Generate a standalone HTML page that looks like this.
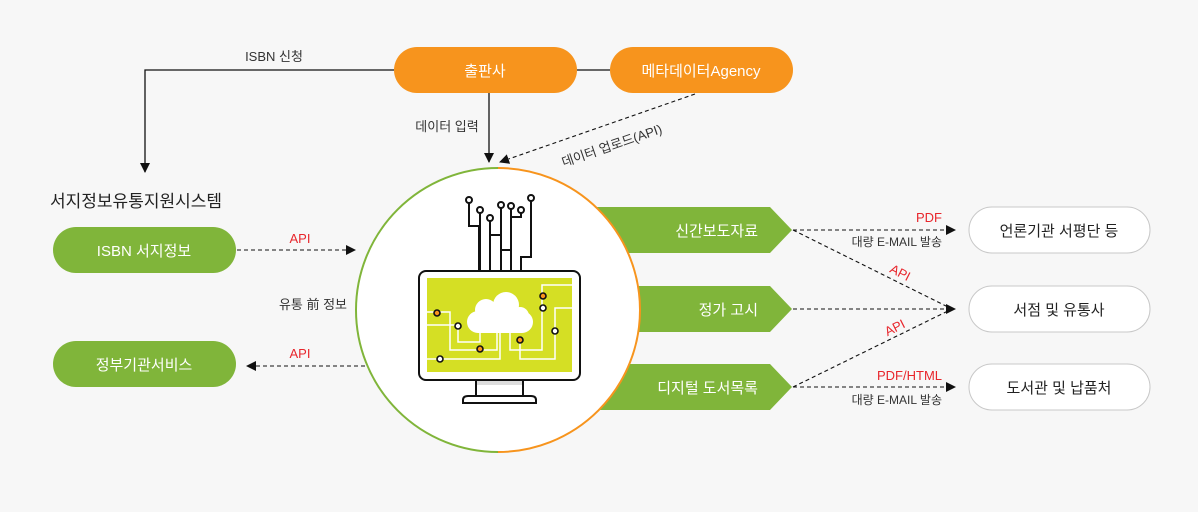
<!DOCTYPE html>
<html><head><meta charset="utf-8"><style>
html,body{margin:0;padding:0;background:#f7f7f7}
svg{display:block;font-family:"Liberation Sans","Noto Sans CJK KR",sans-serif}
</style></head><body>
<svg width="1198" height="512" viewBox="0 0 1198 512" xmlns="http://www.w3.org/2000/svg">
<defs>
<marker id="a" markerWidth="10" markerHeight="10" refX="9" refY="5" orient="auto" markerUnits="userSpaceOnUse"><path d="M0,0 L10,5 L0,10 z" fill="#111"/></marker>
</defs>
<rect width="1198" height="512" fill="#f7f7f7"/>
<path d="M394,70 H145 V172" fill="none" stroke="#111" stroke-width="1.3" marker-end="url(#a)"/>
<text x="274" y="61" font-size="13" fill="#333" text-anchor="middle">ISBN 신청</text>
<line x1="577" y1="70" x2="610" y2="70" stroke="#111" stroke-width="1.3"/>
<line x1="489" y1="93" x2="489" y2="162" stroke="#111" stroke-width="1.3" marker-end="url(#a)"/>
<text x="447" y="131" font-size="13" fill="#333" text-anchor="middle">데이터 입력</text>
<line x1="695" y1="94" x2="500" y2="162" stroke="#111" stroke-width="1.1" stroke-dasharray="4,3" marker-end="url(#a)"/>
<text x="612" y="150" font-size="13" fill="#333" text-anchor="middle" transform="rotate(-19 612 146)">데이터 업로드(API)</text>
<rect x="394" y="47" width="183" height="46" rx="23" fill="#f7941d"/>
<text x="485" y="76" font-size="15" fill="#fff" text-anchor="middle">출판사</text>
<rect x="610" y="47" width="183" height="46" rx="23" fill="#f7941d"/>
<text x="701" y="76" font-size="15" fill="#fff" text-anchor="middle">메타데이터Agency</text>
<text x="50" y="207" font-size="17" fill="#222">서지정보유통지원시스템</text>
<rect x="53" y="227" width="183" height="46" rx="23" fill="#80b53a"/>
<text x="144" y="256" font-size="15" fill="#fff" text-anchor="middle">ISBN 서지정보</text>
<rect x="53" y="341" width="183" height="46" rx="23" fill="#80b53a"/>
<text x="144" y="370" font-size="15" fill="#fff" text-anchor="middle">정부기관서비스</text>
<line x1="237" y1="250" x2="355" y2="250" stroke="#111" stroke-width="1.1" stroke-dasharray="4,3" marker-end="url(#a)"/>
<text x="300" y="243" font-size="13" fill="#e8262c" text-anchor="middle">API</text>
<line x1="365" y1="366" x2="247" y2="366" stroke="#111" stroke-width="1.1" stroke-dasharray="4,3" marker-end="url(#a)"/>
<text x="300" y="358" font-size="13" fill="#e8262c" text-anchor="middle">API</text>
<text x="313" y="309" font-size="13" fill="#333" text-anchor="middle">유통 前 정보</text>
<g fill="#80b53a">
<path d="M560,207 H770 L792,230 L770,253 H560 z"/>
<path d="M560,286 H770 L792,309 L770,332 H560 z"/>
<path d="M560,364 H770 L792,387 L770,410 H560 z"/>
</g>
<text x="758" y="236" font-size="15" fill="#fff" text-anchor="end">신간보도자료</text>
<text x="758" y="315" font-size="15" fill="#fff" text-anchor="end">정가 고시</text>
<text x="758" y="393" font-size="15" fill="#fff" text-anchor="end">디지털 도서목록</text>
<path d="M498,168 A142,142 0 0 0 498,452" fill="#fff" stroke="#80b53a" stroke-width="2"/>
<path d="M498,168 A142,142 0 0 1 498,452" fill="#fff" stroke="#f7941d" stroke-width="2"/>
<g stroke="#111" stroke-width="2" fill="none">
<path d="M469,200 V226 H479 V270"/><path d="M480,210 V270"/><path d="M490,218 V270"/>
<path d="M501,205 V270"/><path d="M511,206 V270"/><path d="M521,210 V217 H511"/>
<path d="M531,198 V257 H521 V270"/><path d="M490,235 H501"/><path d="M501,250 H511"/>
</g>
<g fill="#fff" stroke="#111" stroke-width="2">
<circle cx="469" cy="200" r="3"/><circle cx="480" cy="210" r="3"/><circle cx="490" cy="218" r="3"/>
<circle cx="501" cy="205" r="3"/><circle cx="511" cy="206" r="3"/><circle cx="521" cy="210" r="3"/><circle cx="531" cy="198" r="3"/>
</g>
<rect x="419" y="271" width="161" height="109" rx="7" fill="#fff" stroke="#111" stroke-width="2"/>
<rect x="427" y="278" width="145" height="94" fill="#d5df24"/>
<g stroke="#fff" stroke-width="1.5" fill="none">
<path d="M427,312 H450 V350 H497 V330"/><path d="M427,325 H458 V342 H480 V330"/>
<path d="M427,359 H500 V330"/><path d="M510,330 V350 H542 V285 H572"/>
<path d="M520,340 V359 H555 V308 H572"/>
</g>
<g fill="#fff">
<rect x="467" y="311" width="66" height="22" rx="11"/>
<circle cx="486" cy="310" r="11"/>
<circle cx="506" cy="305" r="13"/>
<circle cx="520" cy="316" r="9"/>
</g>
<g stroke="#111" stroke-width="1.6">
<circle cx="437" cy="313" r="3" fill="#f7941d"/><circle cx="458" cy="326" r="3" fill="#fff"/>
<circle cx="480" cy="349" r="3" fill="#f7941d"/><circle cx="440" cy="359" r="3" fill="#fff"/>
<circle cx="520" cy="340" r="3" fill="#f7941d"/><circle cx="543" cy="296" r="3" fill="#f7941d"/>
<circle cx="543" cy="308" r="3" fill="#fff"/><circle cx="555" cy="331" r="3" fill="#fff"/>
</g>
<rect x="476" y="380" width="47" height="17" fill="#fff" stroke="#111" stroke-width="2"/>
<rect x="477" y="381" width="45" height="4" fill="#ddd"/>
<path d="M463,403 V400 Q463,396 468,396 H531 Q536,396 536,400 V403 z" fill="#fff" stroke="#111" stroke-width="2"/>
<g stroke="#111" stroke-width="1.1" stroke-dasharray="4,3" fill="none">
<line x1="793" y1="230" x2="955" y2="230" marker-end="url(#a)"/>
<line x1="793" y1="309" x2="955" y2="309" marker-end="url(#a)"/>
<line x1="793" y1="387" x2="955" y2="387" marker-end="url(#a)"/>
<line x1="793" y1="230" x2="952" y2="309"/>
<line x1="793" y1="387" x2="952" y2="309"/>
</g>
<text x="942" y="222" font-size="13" fill="#e8262c" text-anchor="end">PDF</text>
<text x="942" y="246" font-size="12" fill="#333" text-anchor="end">대량 E-MAIL 발송</text>
<text x="900" y="277" font-size="13" fill="#e8262c" text-anchor="middle" transform="rotate(27 900 273)">API</text>
<text x="895" y="332" font-size="13" fill="#e8262c" text-anchor="middle" transform="rotate(-27 895 328)">API</text>
<text x="942" y="380" font-size="13" fill="#e8262c" text-anchor="end">PDF/HTML</text>
<text x="942" y="404" font-size="12" fill="#333" text-anchor="end">대량 E-MAIL 발송</text>
<g fill="#fff" stroke="#c8c8c8" stroke-width="1">
<rect x="969" y="207" width="181" height="46" rx="23"/>
<rect x="969" y="286" width="181" height="46" rx="23"/>
<rect x="969" y="364" width="181" height="46" rx="23"/>
</g>
<text x="1059" y="236" font-size="15" fill="#222" text-anchor="middle">언론기관 서평단 등</text>
<text x="1059" y="315" font-size="15" fill="#222" text-anchor="middle">서점 및 유통사</text>
<text x="1059" y="393" font-size="15" fill="#222" text-anchor="middle">도서관 및 납품처</text>
</svg>
</body></html>
